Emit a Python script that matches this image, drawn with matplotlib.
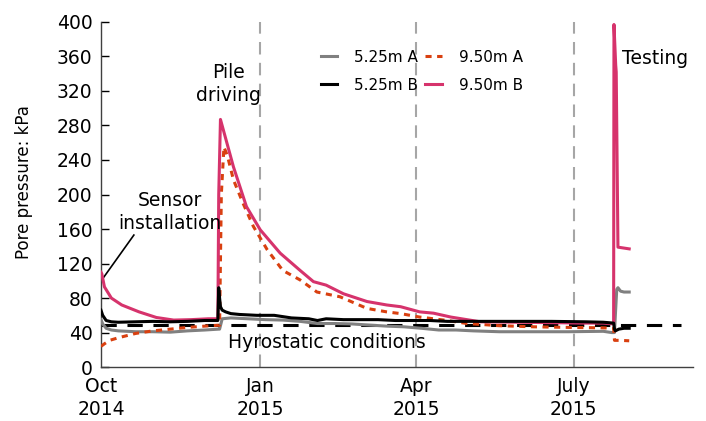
import matplotlib
matplotlib.use("Agg")
import matplotlib.pyplot as plt

plt.rcParams['font.family'] = ['DejaVu Sans']

# x values: days since 1 Oct 2014
tick_days = [0, 92, 182, 273]
tick_labels = ["Oct\n2014", "Jan\n2015", "Apr\n2015", "July\n2015"]
y_ticks = [0, 40, 80, 120, 160, 200, 240, 280, 320, 360, 400]
hydrostatic = 48.5

a525_days = [0, 1, 3, 6, 10, 20, 30, 40, 50, 60, 68, 68.5, 70, 75, 85, 95, 105, 115, 125,
             135, 145, 155, 165, 175, 185, 195, 205, 215, 230, 250, 270, 290, 295, 296.5,
             297, 297.8, 298.5, 300, 302, 305]
a525_vals = [55, 50, 45, 43, 42, 41, 41, 40.5, 42, 43, 44, 44, 56, 57, 56, 55, 54.5, 53, 50.5,
             50.5, 50, 48.7, 47.5, 46.7, 45, 43, 43, 42, 41, 41, 41, 41.5, 40, 40,
             60, 90, 92, 88, 87, 87]

b525_days = [0, 1, 3, 6, 10, 20, 30, 40, 50, 60, 67.5, 68, 68.5, 69, 70, 72, 75, 80, 90, 100,
             110, 120, 125, 130, 140, 150, 160, 170, 180, 190, 200, 220, 240, 260, 280, 290,
             296, 296.5, 297, 299, 302, 305]
b525_vals = [66, 60, 54, 52.5, 52, 52.5, 53, 52.5, 53, 54, 54, 92, 80, 70, 66, 64, 62, 61, 60, 60,
             57, 56, 54, 56, 55, 55, 55, 54, 54, 54, 53, 53, 53, 53, 52.5, 52,
             51, 44, 42, 44, 45, 45]

a950_days = [0, 2, 5, 10, 20, 30, 40, 50, 60, 67.5, 68.5, 69.5, 71, 73, 76.5, 82, 88, 96, 105,
             115, 124.7, 138, 153.6, 165, 173, 184, 200, 211, 230, 250, 270, 290, 296,
             296.5, 297, 300, 305]
a950_vals = [24, 27, 31, 34, 39, 42, 44, 46, 47.5, 48.5, 48.5, 200, 255, 245, 217, 190, 163, 136, 112,
             101, 87, 81.5, 68, 64, 62, 58, 54, 50.6, 48, 46.7, 46, 45.5, 45,
             31, 31, 31, 30.5]

b950_days = [0, 0.5, 2, 6, 12, 22, 32, 42, 52, 62, 67.5, 68, 69, 72, 76.5, 84, 92, 103.5, 115,
             122.7, 130, 140, 153.6, 165, 173, 184, 192, 202, 219, 240, 260, 280, 290, 296,
             296.2, 297.2, 297.5, 298.5, 305]
b950_vals = [110, 108, 93, 80, 72, 64, 57.5, 54.5, 55, 56, 56, 200, 287, 265, 232, 186, 159, 132, 112,
             99, 95, 85, 76, 72, 70, 64, 62.5, 58, 52.5, 52, 51.5, 51, 51, 50,
             397, 350, 342, 139, 137]

FS = 13.5

fig = plt.figure(figsize=(7.06, 4.21), dpi=100)
ax = fig.add_axes([0.143, 0.128, 0.839, 0.82])

for d in tick_days[1:]:
    ax.axvline(d, color='#a6a6a6', lw=1.5, dashes=(6, 4), zorder=1)

ax.plot([0, 335], [hydrostatic, hydrostatic], color='black', lw=2.2, dashes=(5, 3.5), zorder=2)

ax.plot(a525_days, a525_vals, color='#808080', lw=2.2, label='5.25m A', zorder=3)
ax.plot(b525_days, b525_vals, color='black', lw=2.2, label='5.25m B', zorder=4)
ax.plot(a950_days, a950_vals, color='#d94010', lw=2.2, dashes=(2, 1.8), label='9.50m A', zorder=3)
ax.plot(b950_days, b950_vals, color='#d6336c', lw=2.2, label='9.50m B', zorder=3)

ax.set_xlim(0, 342)
ax.set_ylim(0, 400)
ax.set_xticks(tick_days)
ax.set_xticklabels(tick_labels, fontsize=FS, linespacing=1.25)
ax.set_yticks(y_ticks)
ax.tick_params(axis='y', labelsize=FS, direction='in', length=6, width=1, pad=6)
ax.tick_params(axis='x', direction='in', length=0, pad=7)
ax.set_ylabel('Pore pressure: kPa', fontsize=12)
ax.yaxis.set_label_coords(-0.115, 0.535)
for s in ['top', 'right']:
    ax.spines[s].set_visible(False)
for s in ['left', 'bottom']:
    ax.spines[s].set_linewidth(1.0)
    ax.spines[s].set_color('#404040')

ax.text(40, 180, 'Sensor\ninstallation', ha='center', va='center', fontsize=FS, linespacing=1.25)
ax.plot([19.0, 1.2], [153, 103], color='black', lw=1.2)
ax.text(73.4, 328, 'Pile\ndriving', ha='center', va='center', fontsize=FS, linespacing=1.25)
ax.text(301, 358, 'Testing', ha='left', va='center', fontsize=FS)
ax.text(130.6, 29, 'Hyrostatic conditions', ha='center', va='center', fontsize=FS)

leg = ax.legend(ncol=2, frameon=False, fontsize=11, loc='upper left',
                bbox_to_anchor=(313 / 706, 1 - 42 / 421), bbox_transform=fig.transFigure,
                handlelength=1.1, handletextpad=1.1, columnspacing=0.45, labelspacing=0.85,
                borderpad=0)

fig.savefig('out.png', dpi=100)
